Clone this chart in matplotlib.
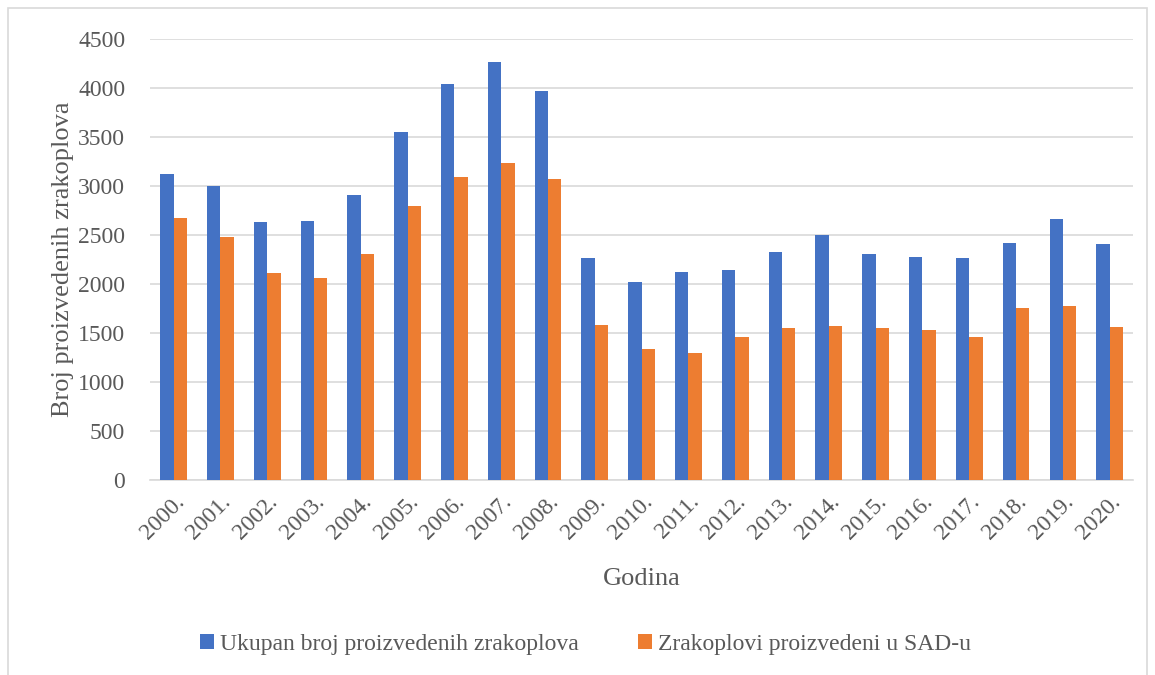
import matplotlib.pyplot as plt
import numpy as np
from matplotlib.patches import Rectangle

years = [f"{y}." for y in range(2000, 2021)]
total = [3120, 3000, 2633, 2640, 2908, 3547, 4041, 4271, 3972, 2265, 2020,
         2119, 2140, 2327, 2504, 2309, 2272, 2268, 2415, 2660, 2408]
usa = [2675, 2478, 2116, 2058, 2310, 2796, 3095, 3238, 3068, 1579, 1334,
       1300, 1456, 1548, 1568, 1548, 1531, 1456, 1755, 1772, 1558]

BLUE = "#4472c4"
ORANGE = "#ed7d31"
TEXT = "#595959"
GRID = "#d9d9d9"

plt.rcParams["font.family"] = ["Liberation Serif", "DejaVu Serif"]

fig = plt.figure(figsize=(11.55, 6.75), dpi=100)
ax = fig.add_axes([0.130, 0.289, 0.851, 0.653])

x = np.arange(len(years))
w = 0.285
ax.bar(x - w / 2, total, w, color=BLUE, label="Ukupan broj proizvedenih zrakoplova", zorder=3)
ax.bar(x + w / 2, usa, w, color=ORANGE, label="Zrakoplovi proizvedeni u SAD-u", zorder=3)

ax.set_xlim(-0.5, len(years) - 0.5)
ax.set_ylim(0, 4500)
ax.set_yticks(np.arange(0, 4501, 500))
ax.yaxis.grid(True, color=GRID, linewidth=1.2, zorder=0)
ax.set_xticks(x)
ax.set_xticklabels(years, rotation=45, ha="right", rotation_mode="anchor")
ax.tick_params(axis="both", length=0, labelsize=17, colors=TEXT)
ax.tick_params(axis="y", pad=18)
ax.tick_params(axis="x", pad=8)
for side in ["top", "right", "left"]:
    ax.spines[side].set_visible(False)
ax.spines["bottom"].set_color(GRID)
ax.spines["bottom"].set_linewidth(1.2)

ax.set_xlabel("Godina", fontsize=19, color=TEXT, labelpad=18)
ax.set_ylabel("Broj proizvedenih zrakoplova", fontsize=19, color=TEXT, labelpad=3)

leg = fig.legend(loc="center", bbox_to_anchor=(0.507, 0.045), ncol=2, frameon=False,
                 fontsize=17, handlelength=0.6, handleheight=0.6, handletextpad=0.25,
                 columnspacing=2.5)
for t in leg.get_texts():
    t.set_color(TEXT)

fig.patches.append(Rectangle((0.007, -0.01), 0.986, 0.998, transform=fig.transFigure,
                             fill=False, edgecolor=GRID, linewidth=1.2))

fig.savefig("out.png", dpi=100)
